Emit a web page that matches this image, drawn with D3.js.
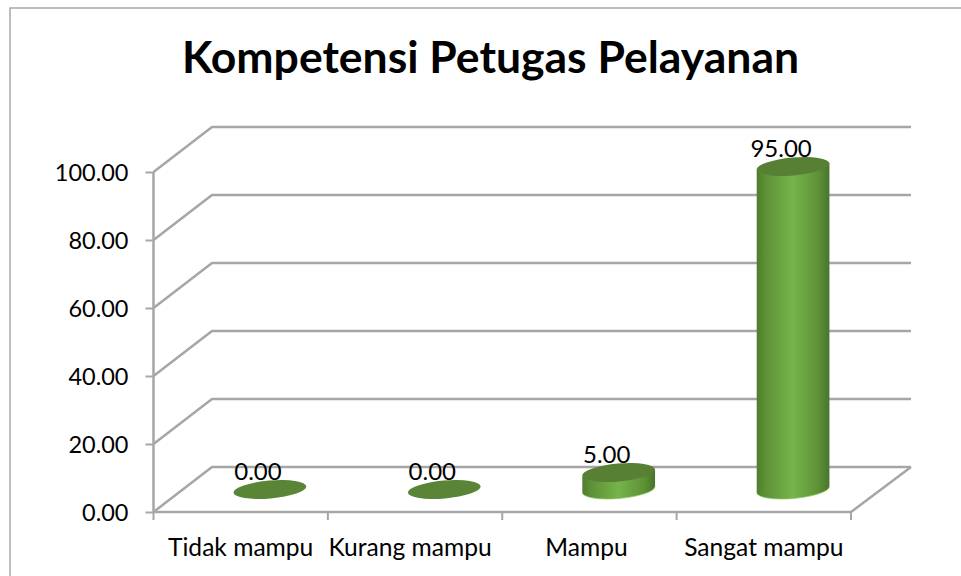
<!DOCTYPE html>
<html><head><meta charset="utf-8">
<script src="https://cdn.jsdelivr.net/npm/d3@7/dist/d3.min.js"></script>
<style>html,body{margin:0;padding:0;background:#fff}svg{display:block}text{font-family:Lato,"Open Sans",sans-serif;fill:#000}</style>
</head><body><svg id="c" width="961" height="576"></svg>
<script>
const titleText = "Kompetensi Petugas Pelayanan";
const categories = ["Tidak mampu","Kurang mampu","Mampu","Sangat mampu"];
const values = [0,0,5,95];
const yTicks = [0,20,40,60,80,100];
const labelNudge = [0,-5,-3,0];

const W=961,H=576, depthX=58.5, depthY=45, rx=36.5, ry=9, tilt=-5;
const svg=d3.select("#c");
const x=d3.scaleBand().domain(categories).range([153.5,851]);
const y=d3.scaleLinear().domain([0,100]).range([512,172]);
const grid="#a6a6a6";

svg.append("rect").attr("x",10).attr("y",8).attr("width",W).attr("height",H).attr("fill","#fff").attr("stroke","#a9a9a9").attr("stroke-width",1.5);
svg.append("text").attr("x",490.5).attr("y",73).attr("text-anchor","middle").attr("font-size",44.5).attr("font-weight",700).text(titleText);

const defs=svg.append("defs");
const g=defs.append("linearGradient").attr("id","cyl");
[[0,"#4f7c2e"],[0.12,"#5d9136"],[0.5,"#76b44a"],[0.85,"#5d9136"],[1,"#4a742c"]].forEach(s=>g.append("stop").attr("offset",s[0]).attr("stop-color",s[1]));

// gridlines + floor
const L=x.range()[0], R=x.range()[1];
const lines=svg.append("g").attr("fill","none").attr("stroke",grid).attr("stroke-width",2.5);
yTicks.forEach(t=>{
  lines.append("path").attr("d",d3.line()([[L,y(t)],[L+depthX,y(t)-depthY],[R+depthX+1.5,y(t)-depthY]]));
});
lines.append("path").attr("d",d3.line()([[L,y(0)],[R,y(0)],[R+depthX+1.5,y(0)-depthY]]));
lines.append("path").attr("d",d3.line()([[L,y(0)],[L,y(100)]]));

const yAxis=svg.append("g").attr("transform",`translate(${L},0)`).call(d3.axisLeft(y).tickValues(yTicks).tickSize(8).tickPadding(17).tickFormat(d3.format(".2f")));
yAxis.select(".domain").remove();
yAxis.selectAll("line").attr("stroke",grid).attr("stroke-width",2);
yAxis.selectAll("text").attr("font-size",23.5).attr("dy","0.35em");

const xAxis=svg.append("g").attr("transform",`translate(0,${y(0)})`).call(d3.axisBottom(x).tickValues([]).tickSize(0));
xAxis.select(".domain").remove();
const edges=categories.map(c=>x(c)).concat([R]);
xAxis.selectAll("line.e").data(edges).enter().append("line").attr("class","e").attr("x1",d=>d).attr("x2",d=>d).attr("y1",0).attr("y2",8).attr("stroke",grid).attr("stroke-width",2);
xAxis.selectAll("text.c").data(categories).enter().append("text").attr("class","c").attr("x",(d,i)=>x(d)+x.bandwidth()/2+labelNudge[i]).attr("y",44).attr("text-anchor","middle").attr("font-size",24.6).text(d=>d);

// cylinders
const rad=tilt*Math.PI/180, ex=rx*Math.cos(rad), ey=rx*Math.sin(rad);
categories.forEach((c,i)=>{
  const v=values[i], cx=x(c)+x.bandwidth()/2+depthX/2, by=y(0)-depthY/2, ty=y(v)-depthY/2;
  const gc=svg.append("g");
  if(v>0){
    gc.append("path").attr("fill","url(#cyl)")
      .attr("d",`M${cx-ex},${ty-ey}L${cx-ex},${by-ey}A${rx},${ry} ${tilt} 0 0 ${cx+ex},${by+ey}L${cx+ex},${ty+ey}Z`);
    gc.append("path").attr("fill","none").attr("stroke","#8cc663").attr("stroke-width",1).attr("opacity",.7)
      .attr("d",`M${cx-ex},${by-ey}A${rx},${ry} ${tilt} 0 0 ${cx+ex},${by+ey}`);
  }
  gc.append("ellipse").attr("cx",cx).attr("cy",ty).attr("rx",rx).attr("ry",ry).attr("transform",`rotate(${tilt} ${cx} ${ty})`).attr("fill",v>0?"#588034":"#5a8436");
  svg.append("text").attr("x",cx-12).attr("y",ty-9.5).attr("text-anchor","middle").attr("font-size",24).text(d3.format(".2f")(v));
});
</script></body></html>
